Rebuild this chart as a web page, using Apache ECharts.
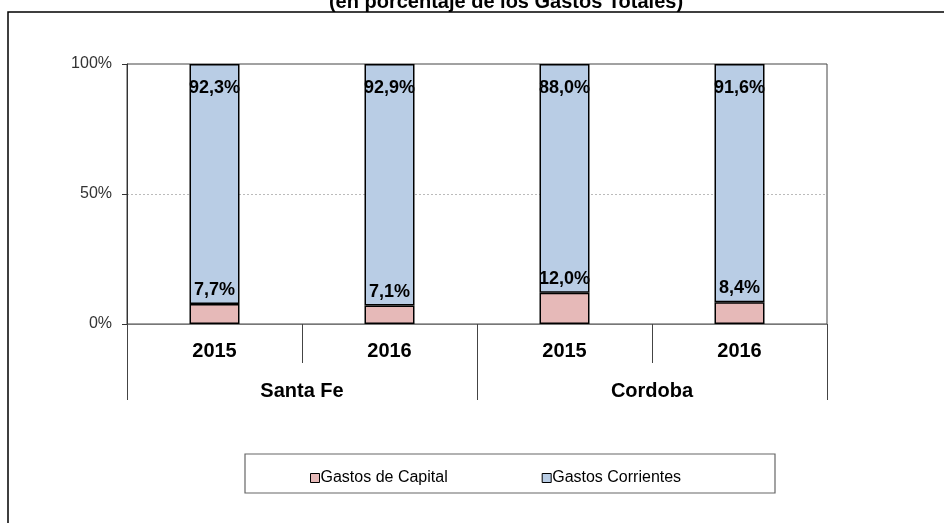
<!DOCTYPE html>
<html>
<head>
<meta charset="utf-8">
<script src="https://cdn.jsdelivr.net/npm/echarts@6/dist/echarts.min.js"></script>
<style>
  html, body { margin: 0; padding: 0; background: #fff; }
  #chart { width: 944px; height: 523px; }
</style>
</head>
<body>
<div id="chart"></div>
<script>
// datos
const years = ["2015", "2016", "2015", "2016"];
const provincias = ["Santa Fe", "Cordoba"];
const gastosCapital = [7.7, 7.1, 12.0, 8.4];
const gastosCorrientes = [92.3, 92.9, 88.0, 91.6];
const yTicks = [0, 50, 100];

const fmt = (v) => v.toFixed(1).replace(".", ",") + "%";

const myChart = echarts.init(document.getElementById("chart"));
const FONT = "Liberation Sans, Arial, sans-serif";
const boldLabel = (size) => ({
  color: "#000",
  fontFamily: FONT,
  fontWeight: "bold",
  fontSize: size
});

const option = {
  backgroundColor: "#fff",
  animation: false,
  title: {
    text: "(en porcentaje de los Gastos Totales)",
    left: 501,
    textAlign: "center",
    top: -13,
    textStyle: {
      fontFamily: FONT,
      fontWeight: "bold",
      fontSize: 20,
      color: "#000"
    }
  },
  graphic: [
    {
      // marco exterior
      type: "rect",
      shape: { x: 8, y: 12, width: 960, height: 540 },
      style: { fill: "none", stroke: "#000", lineWidth: 1.5 },
      silent: true
    },
    {
      // caja de la leyenda
      type: "rect",
      shape: { x: 245, y: 454, width: 530, height: 39 },
      style: { fill: "none", stroke: "#666", lineWidth: 1.2 },
      silent: true
    }
  ],
  legend: {
    left: 305,
    top: 465,
    itemWidth: 9,
    itemHeight: 9,
    itemGap: 94,
    icon: "rect",
    textStyle: {
      fontFamily: FONT,
      fontSize: 16,
      color: "#000",
      padding: [0, 0, 0, -4]
    },
    data: [
      { name: "Gastos de Capital", itemStyle: { borderColor: "#000", borderWidth: 1 } },
      { name: "Gastos Corrientes", itemStyle: { borderColor: "#000", borderWidth: 1 } }
    ]
  },
  grid: {
    left: 127,
    right: 117,
    top: 64,
    bottom: 199,
    show: true,
    borderColor: "#444",
    borderWidth: 1
  },
  xAxis: [
    {
      type: "category",
      data: years,
      position: "bottom",
      axisLine: { show: true, lineStyle: { color: "#777", width: 1 } },
      axisTick: { show: true, length: 39, interval: 0, lineStyle: { color: "#444" } },
      axisLabel: Object.assign({ margin: 17, interval: 0 }, boldLabel(20))
    },
    {
      type: "category",
      data: provincias,
      position: "bottom",
      axisLine: { show: false },
      axisTick: { show: true, length: 76, interval: 0, lineStyle: { color: "#444" } },
      axisLabel: Object.assign({ margin: 57, interval: 0 }, boldLabel(20))
    }
  ],
  yAxis: {
    type: "value",
    min: yTicks[0],
    max: yTicks[yTicks.length - 1],
    interval: 50,
    axisLine: { show: true, lineStyle: { color: "#333" } },
    axisTick: { show: true, length: 5, lineStyle: { color: "#333" } },
    axisLabel: {
      margin: 15,
      color: "#333",
      fontFamily: FONT,
      fontSize: 16,
      formatter: (v) => v + "%"
    },
    splitLine: {
      show: true,
      showMinLine: false,
      showMaxLine: false,
      lineStyle: { color: "#bbb", type: [2, 2] }
    }
  },
  series: [
    {
      name: "Gastos de Capital",
      type: "bar",
      stack: "total",
      barWidth: 50,
      data: gastosCapital,
      itemStyle: { color: "#E6B9B8", borderColor: "#000", borderWidth: 1.5 },
      label: Object.assign({
        show: true,
        position: "top",
        distance: 5,
        formatter: (p) => fmt(p.value)
      }, boldLabel(18))
    },
    {
      name: "Gastos Corrientes",
      type: "bar",
      stack: "total",
      barWidth: 50,
      data: gastosCorrientes,
      itemStyle: { color: "#B9CDE5", borderColor: "#000", borderWidth: 1.5 },
      label: Object.assign({
        show: true,
        position: "insideTop",
        distance: 15,
        formatter: (p) => fmt(p.value)
      }, boldLabel(18)),
      z: 1
    }
  ]
};
myChart.setOption(option);
</script>
</body>
</html>
